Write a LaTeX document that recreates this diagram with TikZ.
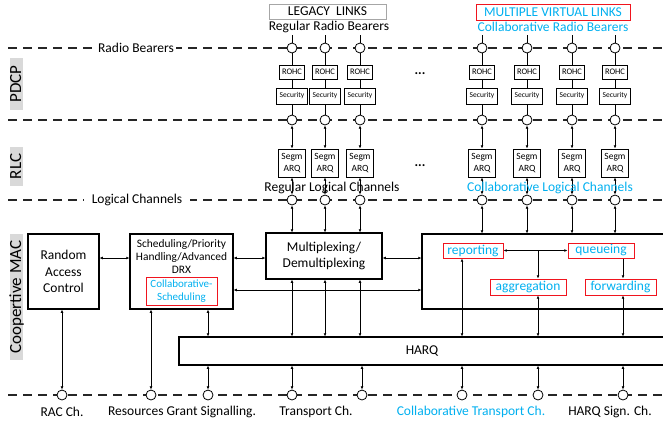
\documentclass[tikz,border=0pt]{standalone}
\usepackage{fontspec}
\setmainfont{Carlito}
\usetikzlibrary{arrows.meta}
\definecolor{cyanT}{RGB}{0,176,240}
\definecolor{redB}{RGB}{240,20,30}
\definecolor{grayL}{RGB}{217,217,217}
\definecolor{grayB}{RGB}{166,166,166}
\begin{document}
\begin{tikzpicture}[x=1pt,y=-1pt,
  big/.style={font=\fontsize{13.5}{16.5}\selectfont},
  box/.style={draw, line width=1.1pt, inner sep=0pt, align=center},
  rohcbox/.style={box, line width=1pt, minimum width=25pt, minimum height=14pt, font=\fontsize{8.5}{10}\selectfont},
  secbox/.style={box, line width=1pt, minimum width=31pt, minimum height=16pt, font=\fontsize{7.5}{9}\selectfont},
  segbox/.style={box, line width=1pt, minimum width=27pt, minimum height=28pt, font=\fontsize{9.5}{12}\selectfont},
  redbox/.style={draw=redB, line width=1pt, inner sep=0pt, text=cyanT, big},
  ch/.style={circle, draw, fill=white, minimum size=10pt, inner sep=0pt, line width=0.8pt},
  dl/.style={dash pattern=on 9pt off 6pt, line width=1.2pt, draw=black!85},
  ln/.style={line width=0.7pt},
  tip/.tip={Latex[length=3.2pt,width=2.8pt]},
  bi/.style={ln, tip-tip},
  oneway/.style={ln, -tip},
  lay/.style={fill=grayL, rotate=90, inner xsep=7pt, inner ysep=0.5pt, text height=10.5pt, text depth=1.5pt, font=\fontsize{17}{20}\selectfont},
  txt/.style={big, inner sep=1pt}
]
\clip (0,0) rectangle (663,424);
\fill[white] (0,0) rectangle (663,424);

% dashed lines
\draw[dl] (8,48) -- (663,48);
\draw[dl] (8,120) -- (663,120);
\draw[dl] (8,200) -- (663,200);
\draw[dl] (8,395) -- (663,395);

\node[txt, fill=white, inner xsep=2pt] (rbl) at (136,48) {Radio Bearers};
\node[txt, fill=white, inner xsep=8pt] (lcl) at (137,200) {Logical Channels};

% layer labels
\node[lay] (pdcp) at (16.5,84) {PDCP};
\node[lay] (rlc) at (16.5,166.5) {RLC};
\node[lay] (mac) at (16.5,297) {Coopertive MAC};

% headers
\node[draw=grayB, line width=1pt, minimum width=117pt, minimum height=15pt, inner sep=0pt, big] (leg) at (327.5,11.5) {LEGACY\ \ LINKS};
\node[txt] (rrb) at (329,27) {Regular Radio Bearers};
\node[redbox, minimum width=154pt, minimum height=16pt] (mvl) at (553,12) {MULTIPLE VIRTUAL LINKS};
\node[txt, text=cyanT] (crb) at (553,27) {Collaborative Radio Bearers};

% columns
\foreach \i/\x in {1/292,2/325,3/360,4/482,5/527,6/572,7/615}{
  \coordinate (tt\i) at (\x,35);
  \node[ch] (t\i) at (\x,48) {};
  \node[rohcbox] (ro\i) at (\x,72) {ROHC};
  \node[secbox] (se\i) at (\x,96) {Security};
  \node[ch] (p\i) at (\x,120) {};
  \node[segbox] (sg\i) at (\x,163) {Segm\\ARQ};
  \node[ch] (l\i) at (\x,200) {};
  \draw[ln] (tt\i) -- (t\i);
  \draw[ln] (t\i) -- (ro\i);
  \draw[ln] (ro\i) -- (se\i);
  \draw[ln] (se\i) -- (p\i);
  \draw[bi] (p\i) -- (sg\i);
  \draw[bi] (sg\i) -- (l\i);
}
\node[txt] (rlch) at (332,188) {Regular Logical Channels};
\node[txt, text=cyanT] (clch) at (550,188) {Collaborative Logical Channels};
\node[txt] (dots1) at (420,74) {\textbf{...}};
\node[txt] (dots2) at (420,166) {\textbf{...}};

% MAC boxes
\node[box, big, minimum width=71pt, minimum height=75pt] (rac) at (63.5,271.5) {Random\\Access\\Control};
\node[box, minimum width=103pt, minimum height=75pt] (sched) at (181.5,271.5) {};
\node[align=center, inner sep=0pt, font=\fontsize{11.4}{13}\selectfont] (schedt) at (181.5,257) {Scheduling/Priority\\Handling/Advanced\\DRX};
\node[redbox, align=center, minimum width=71pt, minimum height=28pt, font=\fontsize{11}{13}\selectfont] (cs) at (181.5,291) {Collaborative-\\Scheduling};
\node[box, big, minimum width=116pt, minimum height=46pt] (mux) at (324,256) {Multiplexing/\\Demultiplexing};
\node[box, minimum width=278pt, minimum height=75pt] (rb) at (561,271.5) {};
\node[redbox, minimum width=60pt, minimum height=15pt] (rep) at (473,250.5) {reporting};
\node[redbox, minimum width=66pt, minimum height=15pt] (que) at (601,250.5) {queueing};
\node[redbox, minimum width=76pt, minimum height=16pt] (agg) at (528,287) {aggregation};
\node[redbox, minimum width=71pt, minimum height=16pt] (fwd) at (620.5,287) {forwarding};
\node[box, minimum width=521pt, minimum height=28pt] (harq) at (439.5,351) {};
\node[txt] (harqt) at (422,351) {HARQ};

% bottom channels
\foreach \i/\x in {1/62,2/151,3/208,4/292,5/362,6/462,7/538,8/623}{
  \node[ch] (b\i) at (\x,395) {};
}
\node[txt] at (62,412) {RAC Ch.};
\node[txt] at (182,412) {Resources Grant Signalling.};
\node[txt] at (316,412) {Transport Ch.};
\node[txt, text=cyanT] at (471,412) {Collaborative Transport Ch.};
\node[txt] at (610,412) {HARQ Sign. Ch.};

% logical channels to MAC
\foreach \i in {1,2,3}{ \draw[bi] (l\i) -- (l\i |- mux.north); }
\foreach \i in {4,5,6,7}{ \draw[bi] (l\i) -- (l\i |- rb.north); }

% horizontal MAC links
\coordinate (h1) at (0,258);
\coordinate (h2) at (0,290);
\draw[bi] (rac.east |- h1) -- (sched.west |- h1);
\draw[bi] (sched.east |- h1) -- (mux.west |- h1);
\draw[bi] (mux.east |- h1) -- (rb.west |- h1);
\draw[bi] (sched.east |- h2) -- (rb.west |- h2);
\draw[bi] (rep) -- (que);
\coordinate (j1) at (538,250.5);
\draw[oneway] (j1) -- (agg.north -| j1);
\draw[oneway] (que.south -| b8) -- (fwd.north -| b8);

% vertical MAC links
\draw[bi] (rac.south -| b1) -- (b1);
\draw[bi] (sched.south -| b2) -- (b2);
\draw[bi] (sched.south -| b3) -- (harq.north -| b3);
\draw[bi] (harq.south -| b3) -- (b3);
\foreach \i in {1,2,3}{ \draw[bi] (mux.south -| l\i) -- (harq.north -| l\i); }
\draw[bi] (harq.south -| b4) -- (b4);
\draw[bi] (harq.south -| b5) -- (b5);
\draw[bi] (rep.south -| b6) -- (harq.north -| b6);
\draw[bi] (harq.south -| b6) -- (b6);
\draw[bi] (agg.south -| b7) -- (harq.north -| b7);
\draw[bi] (harq.south -| b7) -- (b7);
\draw[bi] (fwd.south -| b8) -- (harq.north -| b8);
\draw[bi] (harq.south -| b8) -- (b8);
\end{tikzpicture}
\end{document}
